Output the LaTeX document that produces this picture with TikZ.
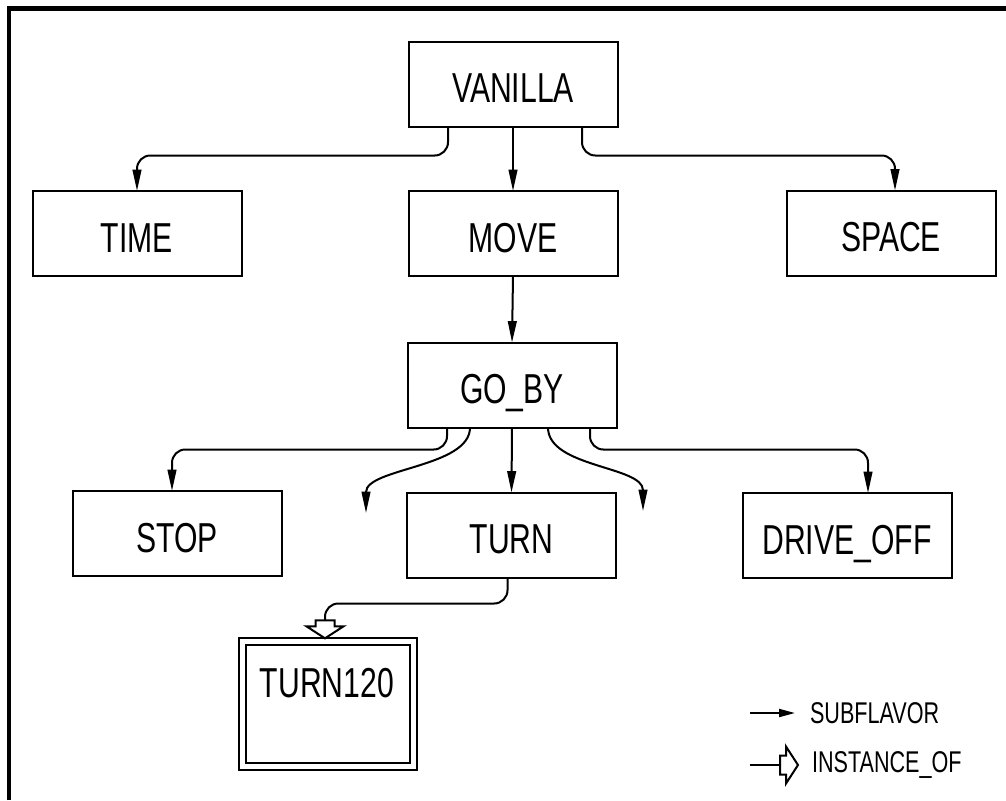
\documentclass[tikz,border=0pt]{standalone}
\usepackage{fontspec}
\setmainfont{Liberation Sans}[FakeStretch=0.72]
\usetikzlibrary{arrows.meta,calc}
\begin{document}
\begin{tikzpicture}[x=0.75pt,y=-0.75pt,
  box/.style={draw,line width=1.5pt,minimum width=156.75pt,minimum height=63.75pt,
    inner sep=0pt,outer sep=0pt,font=\fontsize{31.4}{36}\selectfont,text height=28pt,text depth=0pt},
  boxlabel/.style={inner sep=0pt,outer sep=0pt,font=\fontsize{31.4}{36}\selectfont},
  legendtext/.style={inner sep=0pt,outer sep=0pt,anchor=west,font=\fontsize{22.5}{26}\selectfont},
  link/.style={line width=1.5pt,rounded corners=10pt,-{Triangle[length=16pt,width=6.5pt]}},
  plainlink/.style={line width=1.5pt,rounded corners=10pt},
  instarrow/.pic={\draw[line width=1.5pt,line join=miter,fill=white]
     (0,0) -- (-18.5,-12) -- (-9.5,-12) -- (-9.5,-18) -- (9.5,-18) -- (9.5,-12) -- (18.5,-12) -- cycle;}
  ]
\useasboundingbox (0,0) rectangle (1006,800);
% frame
\draw[line width=3.2pt] (9,800) -- (9,8.5) -- (1006,8.5);

% nodes
\node[box] (vanilla) at (513,84) {VANILLA};
\node[box] (time) at (137,233.5) {TIME};
\node[box] (move) at (513,233.5) {MOVE};
\node[box] (space) at (891,233) {SPACE};
\node[box] (goby) at (512,385) {GO\_BY};
\node[box] (stop) at (177,533.5) {STOP};
\node[box] (turn) at (511.5,535) {TURN};
\node[box] (driveoff) at (847,535.5) {DRIVE\_OFF};
\node[draw,line width=1.5pt,double,double distance=3.5pt,minimum width=128.25pt,minimum height=94pt,
      inner sep=0pt,outer sep=0pt] (turn120) at (328,704) {};
\node[boxlabel] (turn120label) at (327,683) {TURN120};

% subflavor links
\draw[link] (vanilla.south) -- (move.north);
\draw[link] ($(vanilla.south)+(-65,0)$) -- ++(0,29) -| (time.north);
\draw[link] ($(vanilla.south)+(69,0)$) -- ++(0,29) -| ($(space.north)+(4,0)$);
\draw[link] (move.south) -- (goby.north);
\draw[link] ($(goby.south)+(-65,0)$) -- ++(0,22) -| ($(stop.north)+(-5,0)$);
\draw[link] ($(goby.south)+(78,0)$) -- ++(0,22) -| ($(driveoff.north)+(21,0)$);
\draw[link] (goby.south) -- (turn.north);
\coordinate (freeL) at (366,513);
\coordinate (freeR) at (643,511);
\draw[link] ($(goby.south)+(-42,0)$) .. controls +(0,40) and +(0,-45) .. (freeL);
\draw[link] ($(goby.south)+(36,0)$) .. controls +(0,40) and +(0,-45) .. (freeR);

% instance-of link
\draw[plainlink] ($(turn.south)+(-4,0)$) -- ++(0,26) -| ($(turn120.north)+(-3,-21)$);
\pic at ($(turn120.north)+(-3,-3)$) {instarrow};

% legend
\coordinate (sfA) at (750,713);
\coordinate (sfB) at (795,713);
\draw[line width=1.5pt,-{Triangle[length=12pt,width=6pt]}] (sfA) -- (sfB);
\node[legendtext] (sflabel) at (810,713) {SUBFLAVOR};
\coordinate (ioA) at (750,765);
\coordinate (ioB) at (780,765);
\draw[line width=1.5pt] (ioA) -- (ioB);
\pic[rotate=90] at (798,765) {instarrow};
\node[legendtext] (iolabel) at (812,765) {INSTANCE\_OF};
\end{tikzpicture}
\end{document}
